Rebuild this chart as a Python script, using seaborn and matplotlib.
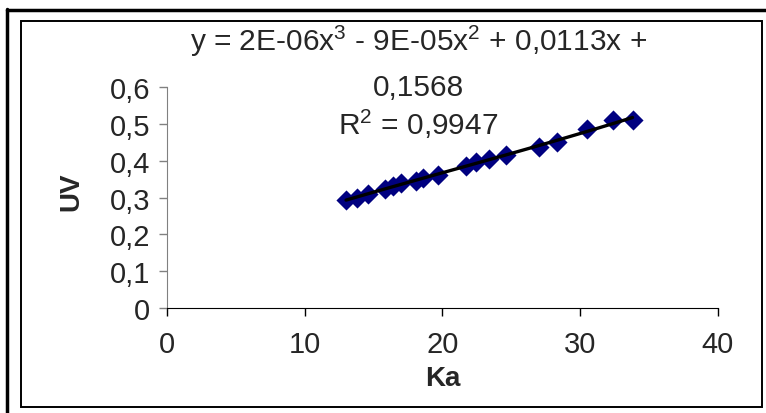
import numpy as np
import pandas as pd
import matplotlib
matplotlib.use("Agg")
import matplotlib.pyplot as plt
from matplotlib.lines import Line2D
import seaborn as sns

# data
ka = [13.0, 13.8, 14.6, 15.8, 16.4, 17.0, 18.1, 18.6, 19.7,
      21.7, 22.4, 23.4, 24.6, 27.0, 28.3, 30.5, 32.4, 33.8]
uv = [0.293, 0.300, 0.310, 0.322, 0.332, 0.340, 0.346, 0.352, 0.360,
      0.386, 0.396, 0.404, 0.415, 0.436, 0.450, 0.485, 0.510, 0.510]

xticks = [0, 10, 20, 30, 40]
yticks = [0, 0.1, 0.2, 0.3, 0.4, 0.5, 0.6]
ytick_labels = ["0", "0,1", "0,2", "0,3", "0,4", "0,5", "0,6"]

eq_lines = ["y = 2E-06x$^{3}$ - 9E-05x$^{2}$ + 0,0113x +",
            "0,1568",
            "R$^{2}$ = 0,9947"]

df = pd.DataFrame({"Ka": ka, "UV": uv})

sns.set_style("white")
plt.rcParams["font.family"] = ["Liberation Sans", "DejaVu Sans"]
plt.rcParams["mathtext.fontset"] = "custom"
plt.rcParams["mathtext.rm"] = "Liberation Sans"

fig = plt.figure(figsize=(7.66, 4.14), dpi=100)
ax = fig.add_axes([0.218, 0.2536, 0.7193, 0.5338])

sns.scatterplot(data=df, x="Ka", y="UV", marker="D", s=105, color="#000080",
                linewidth=0, ax=ax, zorder=2)
sns.regplot(data=df, x="Ka", y="UV", order=3, ci=None, scatter=False,
            line_kws={"color": "black", "lw": 2.4}, ax=ax)

ax.set_xlim(0, 40)
ax.set_ylim(0, 0.6)
ax.set_xticks(xticks)
ax.set_xticklabels([str(t) for t in xticks])
ax.set_yticks(yticks)
ax.set_yticklabels(ytick_labels)

for s in ["top", "right"]:
    ax.spines[s].set_visible(False)
ax.spines["left"].set_color("#808080")
ax.spines["bottom"].set_color("black")
ax.tick_params(axis="x", direction="out", length=6, width=1, color="black",
               pad=10, labelsize=21, bottom=True)
ax.tick_params(axis="y", direction="out", length=6, width=1, color="#808080",
               pad=6, labelsize=21, left=True)

ax.set_xlabel("Ka", fontsize=20, fontweight="bold")
ax.set_ylabel("UV", fontsize=20, fontweight="bold")
ax.xaxis.set_label_coords(0.5, -0.26)
ax.yaxis.set_label_coords(-0.15, 0.53)

# trendline equation
for txt, yb in zip(eq_lines, [0.876, 0.768, 0.675]):
    fig.text(0.546, yb, txt, ha="center", va="baseline", fontsize=21.5)

# chart frame
W, H = 766, 414
fig.add_artist(Line2D([7 / W, 1], [1 - 11 / H] * 2, color="black", lw=2.5,
                      transform=fig.transFigure))
fig.add_artist(Line2D([7 / W] * 2, [0, 1 - 10 / H], color="black", lw=2.5,
                      transform=fig.transFigure))
fig.add_artist(plt.Rectangle((21 / W, 1 - 408 / H), 741 / W, 386 / H,
                             fill=False, edgecolor="black", lw=1.4,
                             transform=fig.transFigure))

fig.savefig("out.png", dpi=100)
